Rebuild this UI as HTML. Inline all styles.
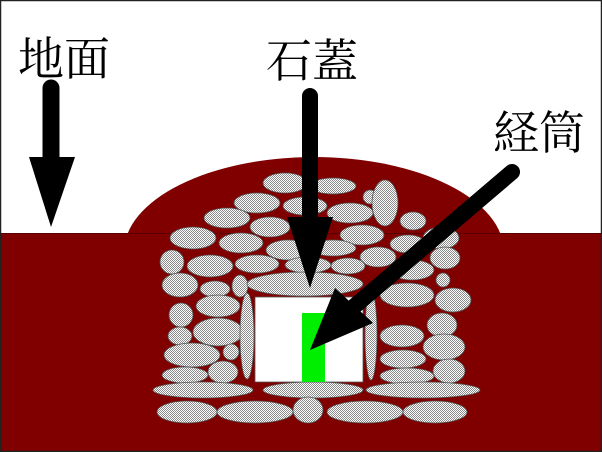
<!DOCTYPE html>
<html><head><meta charset="utf-8"><style>
html,body{margin:0;padding:0;background:#fff}
svg{display:block}
text{font-family:"Liberation Serif","Noto Serif CJK SC",serif;font-size:46px;fill:#000}
</style></head><body>
<svg width="602" height="452" viewBox="0 0 602 452" xmlns="http://www.w3.org/2000/svg">
<defs>
<pattern id="ck" width="2" height="2" patternUnits="userSpaceOnUse">
<rect width="2" height="2" fill="#fff"/><rect width="1" height="1" fill="#8a8a8a"/><rect x="1" y="1" width="1" height="1" fill="#8a8a8a"/>
</pattern>
</defs>
<rect x="0" y="0" width="602" height="452" fill="#fff"/>
<ellipse cx="314" cy="252" rx="190" ry="95" fill="#800000"/>
<rect x="0" y="233" width="602" height="219" fill="#800000"/>
<line x1="0" y1="233.5" x2="602" y2="233.5" stroke="#5a0000" stroke-width="1"/>
<g fill="url(#ck)" stroke="#555" stroke-width="0.8">
<ellipse cx="285" cy="183" rx="22" ry="10"/>
<ellipse cx="333" cy="186" rx="23" ry="8"/>
<ellipse cx="370" cy="197" rx="7" ry="7"/>
<ellipse cx="385" cy="203" rx="13" ry="23"/>
<ellipse cx="257" cy="203" rx="23" ry="10"/>
<ellipse cx="305" cy="206" rx="22" ry="9"/>
<ellipse cx="350" cy="213" rx="23" ry="10"/>
<ellipse cx="227" cy="218" rx="23" ry="10"/>
<ellipse cx="270" cy="227" rx="20" ry="10"/>
<ellipse cx="413" cy="221" rx="13" ry="9"/>
<ellipse cx="362" cy="235" rx="22" ry="10"/>
<ellipse cx="193" cy="238" rx="23" ry="11"/>
<ellipse cx="241" cy="243" rx="22" ry="10"/>
<ellipse cx="288" cy="250" rx="22" ry="10"/>
<ellipse cx="333" cy="248" rx="23" ry="8"/>
<ellipse cx="408" cy="244" rx="18" ry="9"/>
<ellipse cx="441" cy="238" rx="18" ry="11"/>
<ellipse cx="378" cy="257" rx="18" ry="10"/>
<ellipse cx="172" cy="262" rx="12" ry="12"/>
<ellipse cx="210" cy="266" rx="23" ry="11"/>
<ellipse cx="257" cy="264" rx="22" ry="9"/>
<ellipse cx="308" cy="265" rx="23" ry="8"/>
<ellipse cx="348" cy="266" rx="17" ry="8"/>
<ellipse cx="412" cy="270" rx="22" ry="10"/>
<ellipse cx="445" cy="258" rx="15" ry="11"/>
<ellipse cx="180" cy="285" rx="18" ry="12"/>
<ellipse cx="215" cy="289" rx="15" ry="8"/>
<ellipse cx="240" cy="286" rx="8" ry="11"/>
<ellipse cx="305" cy="284" rx="58" ry="12"/>
<ellipse cx="407" cy="295" rx="27" ry="12"/>
<ellipse cx="443" cy="280" rx="7" ry="7"/>
<ellipse cx="453" cy="300" rx="18" ry="12"/>
<ellipse cx="218" cy="306" rx="22" ry="11"/>
<ellipse cx="181" cy="315" rx="12" ry="12"/>
<ellipse cx="218" cy="332" rx="25" ry="14"/>
<ellipse cx="180" cy="336" rx="12" ry="9"/>
<ellipse cx="247" cy="336" rx="7" ry="43"/>
<ellipse cx="371" cy="335" rx="6" ry="45"/>
<ellipse cx="442" cy="325" rx="15" ry="12"/>
<ellipse cx="402" cy="336" rx="22" ry="11"/>
<ellipse cx="444" cy="347" rx="21" ry="13"/>
<ellipse cx="192" cy="355" rx="28" ry="12"/>
<ellipse cx="231" cy="352" rx="8" ry="8"/>
<ellipse cx="223" cy="372" rx="15" ry="11"/>
<ellipse cx="185" cy="375" rx="23" ry="8"/>
<ellipse cx="403" cy="359" rx="23" ry="9"/>
<ellipse cx="407" cy="376" rx="27" ry="8"/>
<ellipse cx="449" cy="371" rx="16" ry="12"/>
<ellipse cx="203" cy="390" rx="50" ry="8"/>
<ellipse cx="313" cy="390" rx="50" ry="8"/>
<ellipse cx="423" cy="390" rx="57" ry="8"/>
<ellipse cx="187" cy="412" rx="30" ry="11"/>
<ellipse cx="255" cy="412" rx="38" ry="11"/>
<ellipse cx="308" cy="410" rx="15" ry="13"/>
<ellipse cx="365" cy="412" rx="38" ry="11"/>
<ellipse cx="435" cy="412" rx="32" ry="11"/>
</g>
<rect x="255" y="297" width="108" height="85" fill="#fff" stroke="#555" stroke-width="0.8"/>
<rect x="302" y="313" width="23" height="69" fill="#00ee00"/>
<line x1="51" y1="88" x2="51" y2="165" stroke="#000" stroke-width="17" stroke-linecap="round"/>
<polygon points="29,157 75,157 51,227" fill="#000"/>
<line x1="310" y1="96" x2="310" y2="225" stroke="#000" stroke-width="16" stroke-linecap="round"/>
<polygon points="287,217 333,217 310,288" fill="#000"/>
<line x1="512" y1="172" x2="350" y2="310" stroke="#000" stroke-width="16" stroke-linecap="round"/>
<polygon points="335,288 373,323 310,350" fill="#000"/>
<text x="18" y="75">地面</text>
<text x="266" y="77">石蓋</text>
<text x="493" y="149">経筒</text>
<rect x="0.5" y="0.5" width="601" height="451" fill="none" stroke="#222" stroke-width="1.5"/>
</svg>
</body></html>
